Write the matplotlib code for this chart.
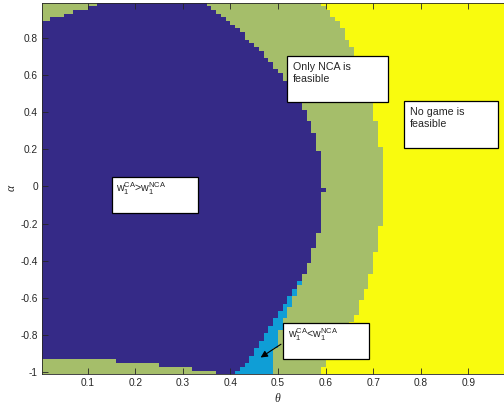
import numpy as np
import matplotlib
matplotlib.use("Agg")
import matplotlib.pyplot as plt
from matplotlib.colors import ListedColormap
from matplotlib.patches import Rectangle, FancyArrowPatch

plt.rcParams['font.family'] = ['Liberation Sans', 'DejaVu Sans']
plt.rcParams['mathtext.fontset'] = 'custom'
plt.rcParams['mathtext.rm'] = 'Liberation Sans'
plt.rcParams['mathtext.it'] = 'Liberation Sans:italic'

# grid: theta cells of width 0.01 starting at 0, alpha rows from 0.98 down to -1.00
theta_edges = np.round(np.arange(0, 0.99, 0.01), 2)
alpha_rows = np.round(np.linspace(0.98, -1.0, 100), 2)

# per row (top -> bottom): column edges (in hundredths of theta) where regions change
green_left_end = [12, 10, 7, 5, 2, 0, 0, 0, 0, 0] + [0] * 86 + [16, 25, 32, 37]
blue_end = [35, 36, 37, 38, 39, 40, 41, 42, 43, 43,
            44, 45, 46, 47, 47, 48, 49, 49, 50, 51,
            51, 52, 52, 53, 53, 54, 54, 55, 55, 56,
            56, 56, 57, 57, 57, 58, 58, 58, 58, 58,
            59, 59, 59, 59, 59, 59, 59, 59, 59, 59,
            60, 59, 59, 59, 59, 59, 59, 59, 59, 59,
            59, 59, 58, 58, 58, 58, 57, 57, 57, 57,
            56, 56, 56, 55, 55, 54, 54, 53, 53, 52,
            52, 51, 51, 50, 50, 49, 49, 48, 48, 47,
            47, 46, 46, 45, 45, 44, 44, 43, 42, 41]
lightblue_end = blue_end[:70] + [56, 56, 56, 55, 55, 55, 54, 54, 54, 53,
                                 53, 53, 52, 52, 52, 51, 51, 51, 50, 50,
                                 50, 50, 50, 49, 49, 49, 49, 49, 49, 49]
yellow_start = [59, 60, 61, 61, 62, 63, 63, 64, 64, 64,
                65, 65, 66, 66, 66, 67, 67, 67, 68, 68,
                68, 69, 69, 69, 70, 70, 70, 70, 70, 70,
                70, 70, 71, 71, 71, 71, 71, 71, 71, 72,
                72, 72, 72, 72, 72, 72, 72, 72, 72, 72,
                72, 72, 72, 72, 72, 72, 72, 72, 72, 72,
                71, 71, 71, 71, 71, 71, 71, 70, 70, 70,
                70, 70, 70, 69, 69, 69, 69, 68, 68, 68,
                67, 67, 67, 67, 66, 66, 65, 65, 64, 64,
                63, 63, 62, 62, 61, 61, 60, 60, 59, 59]

colors = ['#352A87', '#0F9ED6', '#A5BE6A', '#F9FB0E']

ncol = len(theta_edges) - 1
Z = np.zeros((len(alpha_rows), ncol))
cols = np.arange(ncol)
for r in range(len(alpha_rows)):
    z = np.full(ncol, 3)
    z[cols < yellow_start[r]] = 2
    z[cols < lightblue_end[r]] = 1
    z[cols < blue_end[r]] = 0
    z[cols < green_left_end[r]] = 2
    Z[r] = z

alpha_edges = np.concatenate([alpha_rows + 0.01, [alpha_rows[-1] - 0.01]])

W, H = 504, 405
fig = plt.figure(figsize=(W / 100, H / 100), dpi=100)
ax = fig.add_axes([42 / W, 1 - 373.5 / H, 471 / W, 370.5 / H])
ax.pcolormesh(theta_edges, alpha_edges, Z, cmap=ListedColormap(colors),
              vmin=-0.5, vmax=3.5, shading='flat')
ax.set_xlim(0.004, 0.994)
ax.set_ylim(-1.006, 0.987)

ax.set_xticks(np.round(np.arange(0.1, 1.0, 0.1), 1))
ax.set_xticklabels(['0.1', '0.2', '0.3', '0.4', '0.5', '0.6', '0.7', '0.8', '0.9'])
ax.set_yticks(np.round(np.arange(-1, 0.9, 0.2), 1))
ax.set_yticklabels(['-1', '-0.8', '-0.6', '-0.4', '-0.2', '0', '0.2', '0.4', '0.6', '0.8'])
ax.tick_params(direction='in', length=4, width=0.6, top=True, right=True,
               labelsize=7.3, colors='#262626', pad=3)
for s in ax.spines.values():
    s.set_linewidth(0.6)
    s.set_color('#262626')

fig.text(277.7 / W, 1 - 399 / H, 'θ', family='Liberation Serif', style='italic',
         fontsize=8.5, color='#262626', ha='center', va='center')
fig.text(11.7 / W, 1 - 188 / H, 'α', family='Liberation Serif', style='italic',
         fontsize=8.5, color='#262626', ha='center', va='center', rotation=90)


def box(x0, y0, x1, y1, label, tx, ty):
    fig.add_artist(Rectangle((x0 / W, 1 - y1 / H), (x1 - x0) / W, (y1 - y0) / H,
                             transform=fig.transFigure, facecolor='white',
                             edgecolor='black', linewidth=0.9))
    fig.text(tx / W, 1 - ty / H, label, fontsize=7.7, color='#262626',
             ha='left', va='top', linespacing=1.25)


box(111.7, 177.3, 197.7, 213.3, r'w$_1^{\mathrm{CA}}$>w$_1^{\mathrm{NCA}}$', 116, 180)
box(287.3, 56, 388.3, 102.3, 'Only NCA is\nfeasible', 293, 62)
box(404.3, 101, 498.3, 147.7, 'No game is\nfeasible', 410, 107)
box(283.3, 323.3, 369.3, 359.3, r'w$_1^{\mathrm{CA}}$<w$_1^{\mathrm{NCA}}$', 288, 326)

fig.add_artist(FancyArrowPatch(
    (283.3 / W, 1 - 342.7 / H), (258.3 / W, 1 - 359 / H),
    transform=fig.transFigure, arrowstyle='-|>', mutation_scale=10,
    linewidth=0.8, color='black'))

fig.savefig('out.png', dpi=100)
